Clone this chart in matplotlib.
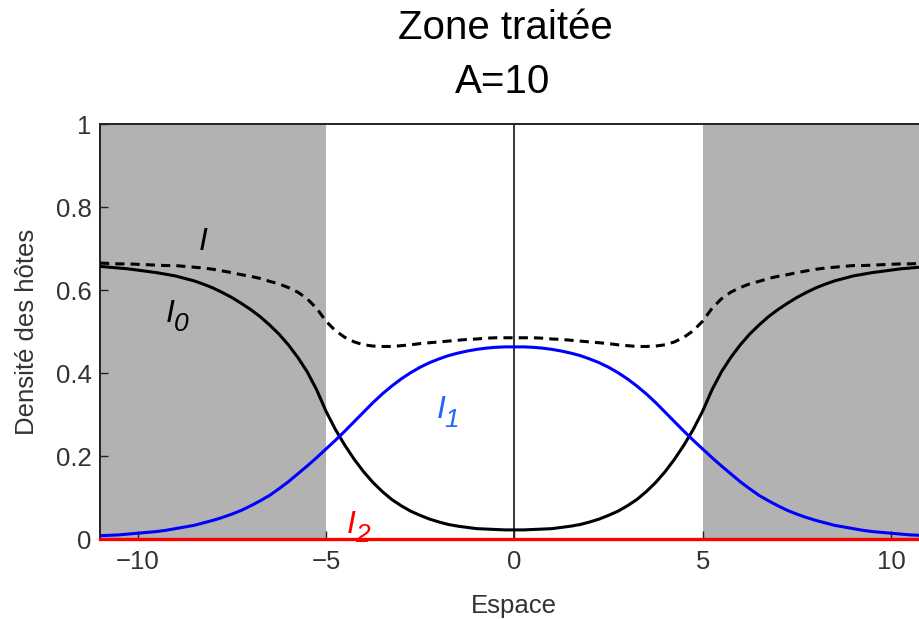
import numpy as np
import matplotlib
matplotlib.use("Agg")
import matplotlib.pyplot as plt

plt.rcParams['font.family'] = ['Liberation Sans', 'DejaVu Sans']

# Spatial positions (step 0.25)
espace = [-11.0, -10.75, -10.5, -10.25, -10.0, -9.75, -9.5, -9.25, -9.0, -8.75,
          -8.5, -8.25, -8.0, -7.75, -7.5, -7.25, -7.0, -6.75, -6.5, -6.25,
          -6.0, -5.75, -5.5, -5.25, -5.0, -4.75, -4.5, -4.25, -4.0, -3.75,
          -3.5, -3.25, -3.0, -2.75, -2.5, -2.25, -2.0, -1.75, -1.5, -1.25,
          -1.0, -0.75, -0.5, -0.25, 0.0, 0.25, 0.5, 0.75, 1.0, 1.25,
          1.5, 1.75, 2.0, 2.25, 2.5, 2.75, 3.0, 3.25, 3.5, 3.75,
          4.0, 4.25, 4.5, 4.75, 5.0, 5.25, 5.5, 5.75, 6.0, 6.25,
          6.5, 6.75, 7.0, 7.25, 7.5, 7.75, 8.0, 8.25, 8.5, 8.75,
          9.0, 9.25, 9.5, 9.75, 10.0, 10.25, 10.5, 10.75, 11.0]

# Host density of class I0 (untreated infected)
I0 = [0.657, 0.655, 0.653, 0.651, 0.648, 0.645, 0.642, 0.638, 0.634, 0.628,
      0.622, 0.614, 0.605, 0.594, 0.582, 0.568, 0.553, 0.536, 0.516, 0.494,
      0.468, 0.438, 0.403, 0.360, 0.308, 0.264, 0.226, 0.192, 0.162, 0.136,
      0.114, 0.095, 0.080, 0.067, 0.057, 0.048, 0.041, 0.035, 0.031, 0.028,
      0.025, 0.024, 0.023, 0.022, 0.022, 0.022, 0.023, 0.024, 0.025, 0.028,
      0.031, 0.035, 0.041, 0.048, 0.057, 0.067, 0.080, 0.095, 0.114, 0.136,
      0.162, 0.192, 0.226, 0.264, 0.308, 0.360, 0.403, 0.438, 0.468, 0.494,
      0.516, 0.536, 0.553, 0.568, 0.582, 0.594, 0.605, 0.614, 0.622, 0.628,
      0.634, 0.638, 0.642, 0.645, 0.648, 0.651, 0.653, 0.655, 0.657]

# Host density of class I1
I1 = [0.008, 0.009, 0.010, 0.012, 0.014, 0.016, 0.018, 0.021, 0.025, 0.029,
      0.033, 0.039, 0.045, 0.052, 0.060, 0.069, 0.080, 0.092, 0.105, 0.121,
      0.138, 0.157, 0.176, 0.196, 0.217, 0.238, 0.260, 0.283, 0.306, 0.329,
      0.350, 0.369, 0.386, 0.401, 0.414, 0.425, 0.434, 0.442, 0.448, 0.453,
      0.457, 0.460, 0.462, 0.463, 0.463, 0.463, 0.462, 0.460, 0.457, 0.453,
      0.448, 0.442, 0.434, 0.425, 0.414, 0.401, 0.386, 0.369, 0.350, 0.329,
      0.306, 0.283, 0.260, 0.238, 0.217, 0.196, 0.176, 0.157, 0.138, 0.121,
      0.105, 0.092, 0.080, 0.069, 0.060, 0.052, 0.045, 0.039, 0.033, 0.029,
      0.025, 0.021, 0.018, 0.016, 0.014, 0.012, 0.010, 0.009, 0.008]

# Host density of class I2
I2 = [0.0] * len(espace)

# Treated zone limits and plotted range
zone_traitee = (-5.0, 5.0)
x_limits = (-11.0, 11.0)

x = np.array(espace)
i0 = np.array(I0)
i1 = np.array(I1)
i2 = np.array(I2)
i_total = i0 + i1 + i2

fig = plt.figure(figsize=(9.20, 6.19), dpi=100)
ax = fig.add_axes([0.1087, 0.1292, 0.9007, 0.6704])

gray = '#b2b2b2'
ax.axvspan(x_limits[0], zone_traitee[0], color=gray, lw=0, zorder=0)
ax.axvspan(zone_traitee[1], x_limits[1], color=gray, lw=0, zorder=0)
ax.axvline(0, color='black', lw=1.1, zorder=1)

ax.plot(x, i_total, color='black', lw=2.2, linestyle=(0, (3, 2)), zorder=3)
ax.plot(x, i0, color='black', lw=2.2, zorder=3)
ax.plot(x, i1, color='#0000ff', lw=2.2, zorder=3)
ax.plot(x, i2, color='#ff0000', lw=2.4, zorder=5, clip_on=False)


def curve_label(xd, yd, sub, color, size=23, sub_size=19):
    """Italic I with an italic subscript, anchored at its left baseline."""
    ax.text(xd, yd, 'I', fontsize=size, style='italic', color=color,
            ha='left', va='baseline', zorder=6)
    if sub:
        ax.annotate(sub, xy=(xd, yd), xytext=(5.5, -6.5), textcoords='offset points',
                    fontsize=sub_size, style='italic', color=color,
                    ha='left', va='baseline', zorder=6)


curve_label(-8.38, 0.696, '', 'black')
curve_label(-9.25, 0.523, '0', 'black')
curve_label(-2.07, 0.292, '1', '#1a66ff')
curve_label(-4.44, 0.0145, '2', '#ff0000')

ax.set_xlim(*x_limits)
ax.set_ylim(0, 1)
ax.set_xticks([-10, -5, 0, 5, 10])
ax.set_xticklabels(['\u221210', '\u22125', '0', '5', '10'])
ax.set_yticks([0, 0.2, 0.4, 0.6, 0.8, 1.0])
ax.set_yticklabels(['0', '0.2', '0.4', '0.6', '0.8', '1'])

txt_color = '#333333'
ax.tick_params(direction='in', length=6, width=1.0, labelsize=18.5,
               labelcolor=txt_color, color='#222222')
ax.tick_params(axis='x', pad=8)
ax.tick_params(axis='y', pad=6)

for side in ['left', 'top', 'bottom']:
    ax.spines[side].set_linewidth(1.4)
    ax.spines[side].set_color('#222222')
ax.spines['right'].set_visible(False)

ax.set_xlabel('Espace', fontsize=18.5, color=txt_color, labelpad=14)
ax.set_ylabel('Densité des hôtes', fontsize=18.5, color=txt_color, labelpad=12)

fig.text(0.549, 0.937, 'Zone traitée', fontsize=29, ha='center', va='baseline', color='black')
fig.text(0.546, 0.8498, 'A=10', fontsize=29, ha='center', va='baseline', color='black')

fig.savefig('out.png', dpi=100)
